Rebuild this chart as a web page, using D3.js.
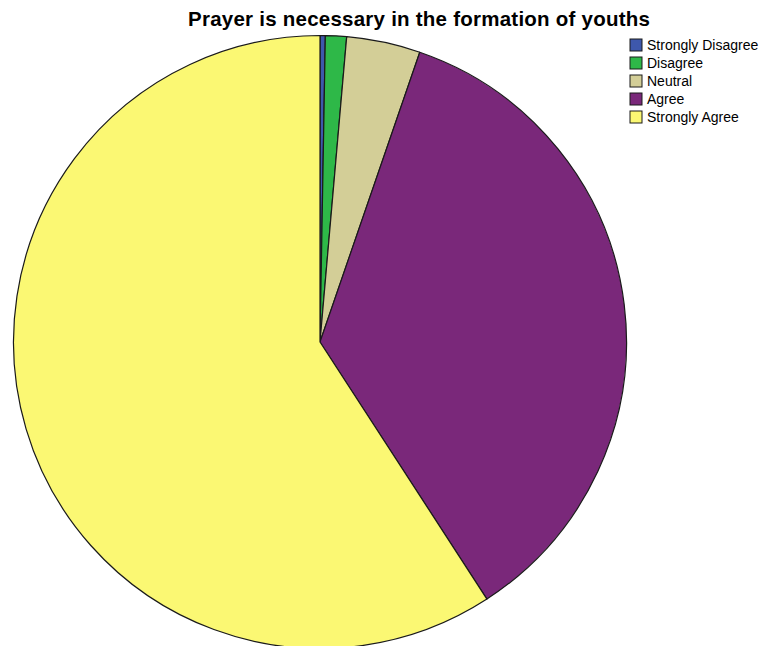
<!DOCTYPE html>
<html>
<head>
<meta charset="utf-8">
<script src="https://cdn.jsdelivr.net/npm/d3@7/dist/d3.min.js"></script>
<style>
  html, body { margin: 0; padding: 0; background: #fff; }
  svg { display: block; }
</style>
</head>
<body>
<svg id="chart" width="765" height="646"></svg>
<script>
// Response categories and counts
const categories = ["Strongly Disagree", "Disagree", "Neutral", "Agree", "Strongly Agree"];
const counts = [1, 4, 14, 128, 213];
const colors = ["#3E58AC", "#2EB848", "#D3CE97", "#7A287A", "#FBF873"];
const title = "Prayer is necessary in the formation of youths";

const svg = d3.select("#chart");
const cx = 320, cy = 342, radius = 306.5;

const data = categories.map((c, i) => ({ category: c, value: counts[i], color: colors[i] }));

const pie = d3.pie().value(d => d.value).sort(null);
const arc = d3.arc().innerRadius(0).outerRadius(radius);

svg.append("g")
  .attr("transform", `translate(${cx},${cy})`)
  .selectAll("path")
  .data(pie(data))
  .join("path")
  .attr("d", arc)
  .attr("fill", d => d.data.color)
  .attr("stroke", "#1a1a1a")
  .attr("stroke-width", 1.2)
  .attr("stroke-linejoin", "round");

svg.append("text")
  .attr("x", 419)
  .attr("y", 26)
  .attr("text-anchor", "middle")
  .attr("font-family", "Liberation Sans, Arial, sans-serif")
  .attr("font-weight", "bold")
  .attr("font-size", 20.5)
  .attr("textLength", 462)
  .attr("lengthAdjust", "spacing")
  .attr("fill", "#000")
  .text(title);

const legend = svg.append("g").attr("transform", "translate(630,39)");
const rows = legend.selectAll("g")
  .data(data)
  .join("g")
  .attr("transform", (d, i) => `translate(0,${i * 18})`);

rows.append("rect")
  .attr("width", 12)
  .attr("height", 12)
  .attr("fill", d => d.color)
  .attr("stroke", "#1a1a1a")
  .attr("stroke-width", 1);

rows.append("text")
  .attr("x", 17)
  .attr("y", 11)
  .attr("font-family", "Liberation Sans, Arial, sans-serif")
  .attr("font-size", 14)
  .attr("fill", "#000")
  .text(d => d.category);
</script>
</body>
</html>
